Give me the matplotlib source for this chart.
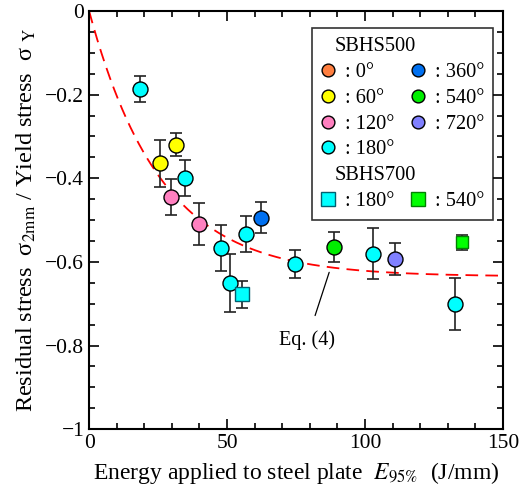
import numpy as np
import matplotlib
matplotlib.use('Agg')
import matplotlib.pyplot as plt
from matplotlib.lines import Line2D
from matplotlib.ticker import MultipleLocator

plt.rcParams['font.family'] = ['Liberation Serif', 'DejaVu Serif']
plt.rcParams['mathtext.fontset'] = 'stix'

# SBHS500 data (energy J/mm, normalised residual stress, error)
x_180 = [18.5, 34.8, 47.7, 51.1, 57.0, 74.7, 102.7, 132.7]
y_180 = [-0.187, -0.400, -0.567, -0.650, -0.534, -0.605, -0.580, -0.701]
e_180 = [0.031, 0.043, 0.054, 0.070, 0.043, 0.033, 0.061, 0.062]

x_60 = [25.7, 31.5]
y_60 = [-0.364, -0.320]
e_60 = [0.056, 0.028]

x_120 = [29.7, 39.9]
y_120 = [-0.445, -0.510]
e_120 = [0.043, 0.050]

x_360 = [62.3]
y_360 = [-0.494]
e_360 = [0.038]

x_540 = [88.9]
y_540 = [-0.564]
e_540 = [0.036]

x_720 = [110.9]
y_720 = [-0.593]
e_720 = [0.039]

# SBHS700 data
x7_180 = [55.4]
y7_180 = [-0.678]
e7_180 = [0.032]

x7_540 = [135.3]
y7_540 = [-0.553]
e7_540 = [0.018]

# Eq. (4) parameters
eq_a = 0.635
eq_b = 26.0

fig = plt.figure(figsize=(5.24, 4.99), dpi=100)
ax = fig.add_axes([0.170, 0.140, 0.790, 0.838])

# fitted curve
xc = np.linspace(0, 150, 400)
yc = -eq_a * (1 - np.exp(-xc / eq_b))
ax.plot(xc, yc, color='red', lw=1.3, dashes=(7, 4), zorder=2)

def draw(x, y, e, color, marker, ms, ec='black'):
    ax.errorbar(x, y, yerr=e, fmt='none', ecolor='#222222', elinewidth=1.2,
                capsize=4, capthick=1.2, zorder=3)
    ax.plot(x, y, linestyle='none', marker=marker, ms=ms, mfc=color,
            mec=ec, mew=1.0, zorder=4)

draw(x_180, y_180, e_180, '#00FFFF', 'o', 10.8)
draw(x_60, y_60, e_60, '#FFFF00', 'o', 10.8)
draw(x_120, y_120, e_120, '#FF80C0', 'o', 10.8)
draw(x_360, y_360, e_360, '#0070F0', 'o', 10.8)
draw(x_540, y_540, e_540, '#00EE00', 'o', 10.8)
draw(x_720, y_720, e_720, '#8080FF', 'o', 10.8)
draw(x7_180, y7_180, e7_180, '#00FFFF', 's', 9.6, ec='#006070')
draw(x7_540, y7_540, e7_540, '#00FF00', 's', 9.2, ec='#008000')

# Eq. (4) annotation
ax.annotate('Eq. (4)', xy=(87, -0.625), xytext=(79, -0.787),
            ha='center', va='center', fontsize=14.5,
            arrowprops=dict(arrowstyle='-', color='black', lw=0.9,
                            shrinkA=9, shrinkB=0))

# legend
def mk(color, marker='o', ec='black', ms=9.2):
    return Line2D([], [], linestyle='none', marker=marker, ms=ms, mfc=color,
                  mec=ec, mew=1.0)

blank = Line2D([], [], linestyle='none')
handles = [blank, mk('#FF7F40'), mk('#FFFF00'), mk('#FF80C0'), mk('#00FFFF'),
           blank, mk('#00FFFF', 's', '#006070', 9.8),
           blank, mk('#0070F0'), mk('#00EE00'), mk('#8080FF'), blank,
           blank, mk('#00FF00', 's', '#008000', 9.8)]
labels = ['SBHS500', ': 0°', ': 60°', ': 120°', ': 180°', 'SBHS700', ': 180°',
          '', ': 360°', ': 540°', ': 720°', '', '', ': 540°']
leg = ax.legend(handles, labels, ncol=2, loc='upper right',
                bbox_to_anchor=(0.976, 0.960), fontsize=14.7, frameon=True,
                fancybox=False, edgecolor='black', handlelength=0.65,
                handletextpad=0.5, columnspacing=-0.75, labelspacing=0.32,
                borderpad=0.45, borderaxespad=0)
leg.get_frame().set_linewidth(1.2)
for t in leg.get_texts():
    if t.get_text().startswith('SBHS'):
        t.set_x(-10)

ax.set_xlim(0, 150)
ax.set_ylim(-1, 0)
ax.xaxis.set_major_locator(MultipleLocator(50))
ax.xaxis.set_minor_locator(MultipleLocator(10))
ax.yaxis.set_major_locator(MultipleLocator(0.2))
ax.yaxis.set_minor_locator(MultipleLocator(0.05))
ax.tick_params(which='both', direction='in', top=True, right=True,
               labelsize=15.5, width=1.2)
ax.tick_params(which='major', length=7)
ax.tick_params(which='minor', length=4)
ax.set_yticks([0, -0.2, -0.4, -0.6, -0.8, -1])
ax.set_yticklabels(['0', '\u22120.2', '\u22120.4', '\u22120.6', '\u22120.8', '\u22121'])
for s in ax.spines.values():
    s.set_linewidth(1.5)

ax.set_xlabel(r'Energy applied to steel plate  $\mathit{E}_{\mathit{95\%}}$  (J/mm)',
              fontsize=17, labelpad=5)
ax.set_ylabel('Residual stress  σ$_{\\rm 2mm}$ / Yield stress  σ $_{\\rm Y}$',
              fontsize=17.5, labelpad=5)

fig.savefig('out.png', dpi=100)
